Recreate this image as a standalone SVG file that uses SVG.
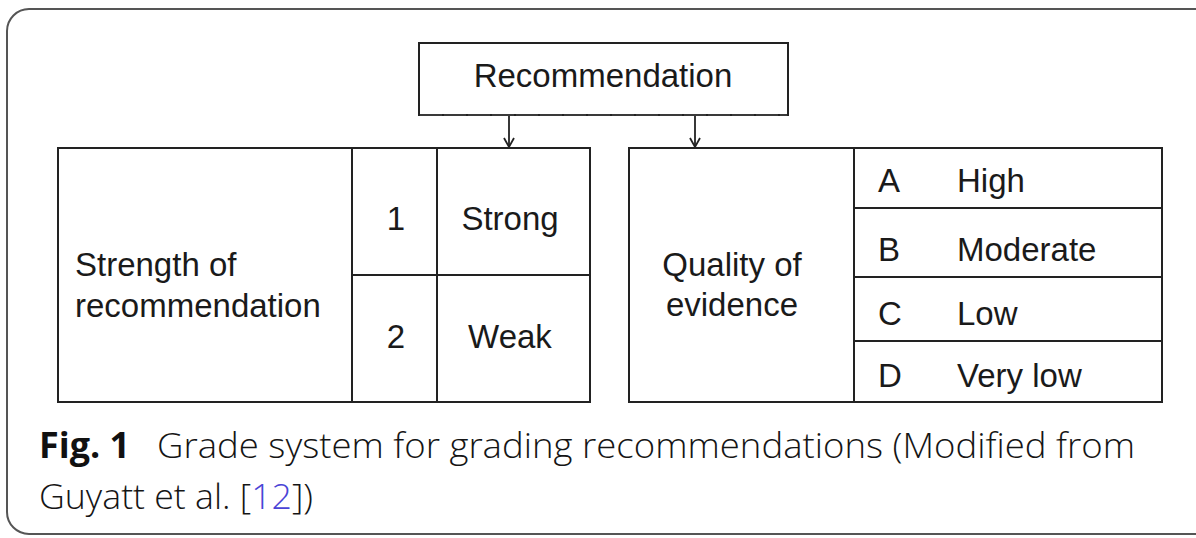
<svg xmlns="http://www.w3.org/2000/svg" width="1196" height="538" viewBox="0 0 1196 538">
  <defs>
    <marker id="arrow" markerWidth="12" markerHeight="12" refX="10" refY="6" orient="auto" markerUnits="userSpaceOnUse" viewBox="0 0 12 12">
      <polyline points="1,1 10,6 1,11" fill="none" stroke="#222" stroke-width="1.8"/>
    </marker>
    <style>
      .box { fill: #fff; stroke: #222; stroke-width: 2; }
      .rule { stroke: #222; stroke-width: 2; fill: none; }
      .lbl { font-family: "Liberation Sans", Arial, sans-serif; font-size: 33px; fill: #1a1a1a; }
      .mid { text-anchor: middle; }
      .cap { font-family: "Open Sans", "Liberation Sans", sans-serif; font-size: 35px; font-weight: 350; fill: #151515; }
      .capb { font-weight: bold; fill: #111; }
      .link { fill: #4a44d6; }
      .conn { stroke: #222; stroke-width: 1.8; fill: none; marker-end: url(#arrow); }
    </style>
  </defs>

  <rect width="1196" height="538" fill="#fff"/>
  <!-- figure frame -->
  <rect x="7" y="9" width="1215" height="525" rx="22" ry="22" fill="none" stroke="#555" stroke-width="2"/>

  <!-- top node -->
  <g id="recommendation">
    <rect class="box" x="419" y="43" width="369" height="72"/>
    <line x1="420" y1="115" x2="787" y2="115" stroke="#3a3a3a" stroke-width="2" stroke-dasharray="22 2"/>
    <text class="lbl mid" x="603" y="87">Recommendation</text>
  </g>

  <!-- connectors -->
  <g id="connectors">
    <line class="conn" x1="509" y1="116" x2="509" y2="147"/>
    <line class="conn" x1="695" y1="116" x2="695" y2="147"/>
  </g>

  <!-- strength table -->
  <g id="strength">
    <rect class="box" x="58" y="148" width="532" height="254"/>
    <line class="rule" x1="352" y1="148" x2="352" y2="402"/>
    <line class="rule" x1="437" y1="148" x2="437" y2="402"/>
    <line class="rule" x1="352" y1="275" x2="590" y2="275"/>
    <text class="lbl" x="75" y="276">Strength of</text>
    <text class="lbl" x="75" y="317">recommendation</text>
    <text class="lbl mid" x="396" y="230">1</text>
    <text class="lbl mid" x="510" y="230">Strong</text>
    <text class="lbl mid" x="396" y="348">2</text>
    <text class="lbl mid" x="510" y="348">Weak</text>
  </g>

  <!-- quality table -->
  <g id="quality">
    <rect class="box" x="629" y="148" width="533" height="254"/>
    <line class="rule" x1="854" y1="148" x2="854" y2="402"/>
    <line class="rule" x1="854" y1="208" x2="1162" y2="208"/>
    <line class="rule" x1="854" y1="277" x2="1162" y2="277"/>
    <line class="rule" x1="854" y1="341" x2="1162" y2="341"/>
    <text class="lbl mid" x="732" y="276">Quality of</text>
    <text class="lbl mid" x="732" y="316">evidence</text>
    <text class="lbl" x="878" y="192">A</text>
    <text class="lbl" x="957" y="192">High</text>
    <text class="lbl" x="878" y="261">B</text>
    <text class="lbl" x="957" y="261">Moderate</text>
    <text class="lbl" x="878" y="325">C</text>
    <text class="lbl" x="957" y="325">Low</text>
    <text class="lbl" x="878" y="387">D</text>
    <text class="lbl" x="957" y="387">Very low</text>
  </g>

  <!-- caption -->
  <g id="caption">
    <text class="cap capb" x="39" y="458" textLength="91" lengthAdjust="spacingAndGlyphs">Fig. 1</text>
    <text class="cap" x="157" y="458" textLength="978" lengthAdjust="spacingAndGlyphs">Grade system for grading recommendations (Modified from</text>
    <text class="cap" x="39" y="509" textLength="274" lengthAdjust="spacingAndGlyphs">Guyatt et al. [<tspan class="link">12</tspan>])</text>
  </g>
</svg>
